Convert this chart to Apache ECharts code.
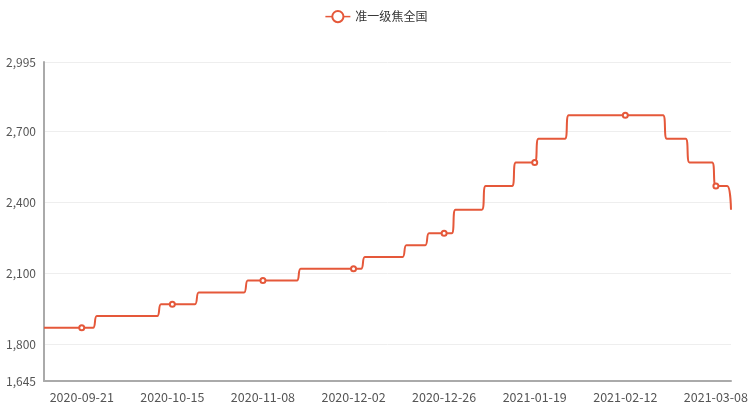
<!DOCTYPE html>
<html>
<head>
<meta charset="utf-8">
<script src="https://cdn.jsdelivr.net/npm/echarts@6/dist/echarts.min.js"></script>
<style>html,body{margin:0;padding:0;background:#fff;}#c{width:752px;height:407px;}</style>
</head>
<body>
<div id="c"></div>
<script>
var seriesName = '准一级焦全国';
var dates = [
'2020-09-11','2020-09-12','2020-09-13','2020-09-14','2020-09-15','2020-09-16','2020-09-17','2020-09-18','2020-09-19','2020-09-20',
'2020-09-21','2020-09-22','2020-09-23','2020-09-24','2020-09-25','2020-09-26','2020-09-27','2020-09-28','2020-09-29','2020-09-30',
'2020-10-01','2020-10-02','2020-10-03','2020-10-04','2020-10-05','2020-10-06','2020-10-07','2020-10-08','2020-10-09','2020-10-10',
'2020-10-11','2020-10-12','2020-10-13','2020-10-14','2020-10-15','2020-10-16','2020-10-17','2020-10-18','2020-10-19','2020-10-20',
'2020-10-21','2020-10-22','2020-10-23','2020-10-24','2020-10-25','2020-10-26','2020-10-27','2020-10-28','2020-10-29','2020-10-30',
'2020-10-31','2020-11-01','2020-11-02','2020-11-03','2020-11-04','2020-11-05','2020-11-06','2020-11-07','2020-11-08','2020-11-09',
'2020-11-10','2020-11-11','2020-11-12','2020-11-13','2020-11-14','2020-11-15','2020-11-16','2020-11-17','2020-11-18','2020-11-19',
'2020-11-20','2020-11-21','2020-11-22','2020-11-23','2020-11-24','2020-11-25','2020-11-26','2020-11-27','2020-11-28','2020-11-29',
'2020-11-30','2020-12-01','2020-12-02','2020-12-03','2020-12-04','2020-12-05','2020-12-06','2020-12-07','2020-12-08','2020-12-09',
'2020-12-10','2020-12-11','2020-12-12','2020-12-13','2020-12-14','2020-12-15','2020-12-16','2020-12-17','2020-12-18','2020-12-19',
'2020-12-20','2020-12-21','2020-12-22','2020-12-23','2020-12-24','2020-12-25','2020-12-26','2020-12-27','2020-12-28','2020-12-29',
'2020-12-30','2020-12-31','2021-01-01','2021-01-02','2021-01-03','2021-01-04','2021-01-05','2021-01-06','2021-01-07','2021-01-08',
'2021-01-09','2021-01-10','2021-01-11','2021-01-12','2021-01-13','2021-01-14','2021-01-15','2021-01-16','2021-01-17','2021-01-18',
'2021-01-19','2021-01-20','2021-01-21','2021-01-22','2021-01-23','2021-01-24','2021-01-25','2021-01-26','2021-01-27','2021-01-28',
'2021-01-29','2021-01-30','2021-01-31','2021-02-01','2021-02-02','2021-02-03','2021-02-04','2021-02-05','2021-02-06','2021-02-07',
'2021-02-08','2021-02-09','2021-02-10','2021-02-11','2021-02-12','2021-02-13','2021-02-14','2021-02-15','2021-02-16','2021-02-17',
'2021-02-18','2021-02-19','2021-02-20','2021-02-21','2021-02-22','2021-02-23','2021-02-24','2021-02-25','2021-02-26','2021-02-27',
'2021-02-28','2021-03-01','2021-03-02','2021-03-03','2021-03-04','2021-03-05','2021-03-06','2021-03-07','2021-03-08','2021-03-09',
'2021-03-10','2021-03-11','2021-03-12'
];
var prices = [
1870,1870,1870,1870,1870,1870,1870,1870,1870,1870,
1870,1870,1870,1870,1920,1920,1920,1920,1920,1920,
1920,1920,1920,1920,1920,1920,1920,1920,1920,1920,
1920,1970,1970,1970,1970,1970,1970,1970,1970,1970,
1970,2020,2020,2020,2020,2020,2020,2020,2020,2020,
2020,2020,2020,2020,2070,2070,2070,2070,2070,2070,
2070,2070,2070,2070,2070,2070,2070,2070,2120,2120,
2120,2120,2120,2120,2120,2120,2120,2120,2120,2120,
2120,2120,2120,2120,2120,2170,2170,2170,2170,2170,
2170,2170,2170,2170,2170,2170,2220,2220,2220,2220,
2220,2220,2270,2270,2270,2270,2270,2270,2270,2370,
2370,2370,2370,2370,2370,2370,2370,2470,2470,2470,
2470,2470,2470,2470,2470,2570,2570,2570,2570,2570,
2570,2670,2670,2670,2670,2670,2670,2670,2670,2770,
2770,2770,2770,2770,2770,2770,2770,2770,2770,2770,
2770,2770,2770,2770,2770,2770,2770,2770,2770,2770,
2770,2770,2770,2770,2770,2670,2670,2670,2670,2670,
2670,2570,2570,2570,2570,2570,2570,2570,2470,2470,
2470,2470,2370
];
var yMin = 1645;
var yMax = 2995;
var labelStart = 10;
var labelStep = 24;

var chart = echarts.init(document.getElementById('c'), null, {renderer: 'canvas'});
chart.setOption({
  animation: false,
  textStyle: {fontFamily: '"Noto Sans CJK SC", "Noto Sans", sans-serif'},
  color: ['#e5583a'],
  legend: {
    top: 5,
    left: 'center',
    itemWidth: 25,
    itemHeight: 14,
    itemStyle: {borderWidth: 1},
    lineStyle: {width: 1.5},
    textStyle: {color: '#333', fontSize: 12},
    data: [seriesName]
  },
  grid: {left: 44, right: 21, top: 62, bottom: 26, containLabel: false},
  xAxis: {
    type: 'category',
    boundaryGap: false,
    data: dates,
    axisLine: {lineStyle: {color: '#aaa', width: 2}},
    axisTick: {show: false},
    axisLabel: {
      color: '#555',
      fontSize: 12.5,
      margin: 10,
      interval: function (i) { return i >= labelStart && (i - labelStart) % labelStep === 0; }
    },
    splitLine: {show: false}
  },
  yAxis: {
    type: 'value',
    min: yMin,
    max: yMax,
    axisLine: {show: true, lineStyle: {color: '#aaa', width: 2}},
    axisTick: {show: false},
    axisLabel: {color: '#555', fontSize: 12, margin: 8},
    splitLine: {lineStyle: {color: '#eee'}}
  },
  series: [{
    name: seriesName,
    type: 'line',
    data: prices,
    smooth: true,
    symbol: 'emptyCircle',
    symbolSize: 5,
    lineStyle: {width: 2},
    itemStyle: {color: '#e5583a', borderWidth: 1}
  }]
});
</script>
</body>
</html>
